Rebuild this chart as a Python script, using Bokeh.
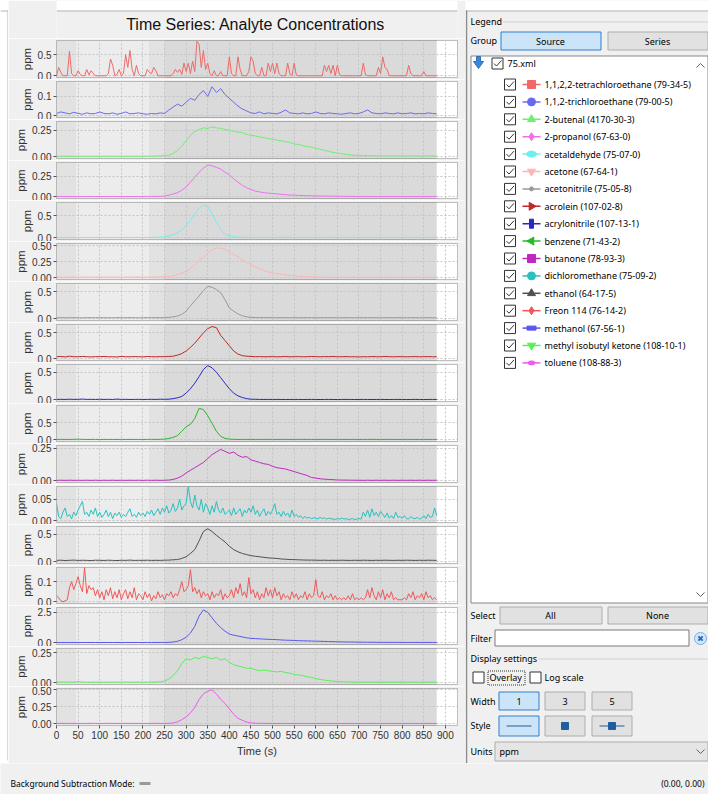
import math
from bokeh.plotting import figure
from bokeh.layouts import row, column
from bokeh.models import Range1d, FixedTicker, PrintfTickFormatter, BoxAnnotation
from bokeh.embed import file_html
from bokeh.resources import INLINE
from bokeh.core.properties import value

# ---------------- data ----------------
t10 = list(range(0, 881, 10))   # 10 s sampling
t5 = list(range(0, 881, 5))     # 5 s sampling
time_ticks = list(range(0, 901, 50))

compounds = [
    "1,1,2,2-tetrachloroethane (79-34-5)", "1,1,2-trichloroethane (79-00-5)",
    "2-butenal (4170-30-3)", "2-propanol (67-63-0)", "acetaldehyde (75-07-0)",
    "acetone (67-64-1)", "acetonitrile (75-05-8)", "acrolein (107-02-8)",
    "acrylonitrile (107-13-1)", "benzene (71-43-2)", "butanone (78-93-3)",
    "dichloromethane (75-09-2)", "ethanol (64-17-5)", "Freon 114 (76-14-2)",
    "methanol (67-56-1)", "methyl isobutyl ketone (108-10-1)", "toluene (108-88-3)",
]

s_tetrachloroethane = [
    0, 0.2, 0.08, 0, 0, 0, 0.58, 0.05, 0, 0, 0.12, 0.03, 0, 0, 0.15, 0.02, 0.12, 0.06, 0, 0,
    0, 0, 0, 0, 0.05, 0.4, 0.25, 0, 0.03, 0.15, 0, 0.05, 0.5, 0.2, 0.6, 0.15, 0, 0.25, 0.05, 0,
    0, 0, 0.15, 0.08, 0.05, 0.2, 0.12, 0, 0, 0, 0, 0, 0, 0, 0.05, 0.15, 0.08, 0.15, 0.03, 0.3,
    0.1, 0.3, 0.05, 0.35, 0.1, 0.82, 0.75, 0.2, 0.6, 0.15, 0.3, 0.05, 0, 0.12, 0, 0, 0.1, 0, 0, 0,
    0.45, 0.05, 0, 0, 0.45, 0.15, 0, 0, 0, 0.1, 0.45, 0.35, 0.05, 0, 0, 0.2, 0, 0, 0.3, 0.1,
    0.3, 0.05, 0.3, 0.05, 0, 0, 0, 0.3, 0.05, 0, 0.3, 0.02, 0, 0, 0, 0, 0, 0, 0, 0,
    0, 0, 0, 0, 0.25, 0.1, 0.25, 0.05, 0.25, 0, 0.25, 0.02, 0, 0, 0, 0, 0, 0, 0, 0,
    0, 0, 0.3, 0.02, 0, 0, 0, 0, 0, 0.2, 0.05, 0.45, 0.2, 0.15, 0, 0, 0, 0, 0, 0,
    0, 0, 0, 0.25, 0.05, 0, 0, 0, 0, 0, 0.1, 0, 0, 0, 0, 0, 0,
]
s_trichloroethane = [
    0.012, 0.02, 0.015, 0.01, 0.018, 0.012, 0.008, 0.015, 0.01, 0.012,
    0.02, 0.012, 0.01, 0.015, 0.008, 0.012, 0.02, 0.01, 0.012, 0.015,
    0.01, 0.008, 0.012, 0.01, 0.015, 0.012, 0.03, 0.045, 0.06, 0.05,
    0.07, 0.09, 0.08, 0.11, 0.13, 0.1, 0.15, 0.12, 0.14, 0.11,
    0.09, 0.07, 0.05, 0.035, 0.025, 0.015, 0.012, 0.02, 0.01, 0.015,
    0.012, 0.01, 0.018, 0.03, 0.015, 0.012, 0.01, 0.015, 0.01, 0.012,
    0.02, 0.012, 0.01, 0.015, 0.012, 0.01, 0.008, 0.012, 0.015, 0.01,
    0.012, 0.02, 0.03, 0.015, 0.012, 0.01, 0.015, 0.012, 0.01, 0.015,
    0.01, 0.012, 0.015, 0.01, 0.012, 0.01, 0.015, 0.012, 0.01,
]
s_butenal = [
    0.004, 0.005, 0.004, 0.005, 0.004, 0.006, 0.005, 0.004, 0.005, 0.004,
    0.005, 0.004, 0.005, 0.006, 0.004, 0.005, 0.004, 0.005, 0.004, 0.005,
    0.005, 0.006, 0.005, 0.006, 0.008, 0.01, 0.015, 0.03, 0.06, 0.1,
    0.15, 0.2, 0.235, 0.255, 0.27, 0.265, 0.28, 0.27, 0.265, 0.255,
    0.245, 0.24, 0.23, 0.225, 0.21, 0.2, 0.195, 0.185, 0.18, 0.17,
    0.165, 0.155, 0.15, 0.14, 0.135, 0.12, 0.115, 0.105, 0.095, 0.09,
    0.08, 0.07, 0.06, 0.05, 0.04, 0.035, 0.028, 0.022, 0.018, 0.014,
    0.012, 0.01, 0.01, 0.009, 0.008, 0.008, 0.008, 0.007, 0.008, 0.007,
    0.008, 0.007, 0.007, 0.008, 0.007, 0.007, 0.008, 0.007, 0.007,
]
s_propanol = [
    0.003, 0.004, 0.003, 0.004, 0.003, 0.005, 0.004, 0.003, 0.004, 0.003,
    0.004, 0.003, 0.004, 0.005, 0.003, 0.004, 0.003, 0.004, 0.003, 0.004,
    0.004, 0.005, 0.004, 0.005, 0.006, 0.008, 0.02, 0.035, 0.05, 0.08,
    0.12, 0.18, 0.24, 0.3, 0.35, 0.39, 0.38, 0.36, 0.34, 0.3,
    0.27, 0.22, 0.18, 0.14, 0.11, 0.09, 0.07, 0.06, 0.05, 0.045,
    0.04, 0.035, 0.03, 0.026, 0.022, 0.02, 0.017, 0.015, 0.013, 0.012,
    0.01, 0.009, 0.008, 0.008, 0.007, 0.006, 0.006, 0.005, 0.005, 0.005,
    0.004, 0.004, 0.004, 0.004, 0.003, 0.004, 0.003, 0.004, 0.003, 0.004,
    0.003, 0.004, 0.003, 0.003, 0.004, 0.003, 0.003, 0.004, 0.003,
]
s_acetaldehyde = [
    0.005, 0.006, 0.005, 0.006, 0.005, 0.006, 0.005, 0.005, 0.006, 0.005,
    0.006, 0.005, 0.005, 0.006, 0.005, 0.006, 0.005, 0.006, 0.005, 0.006,
    0.006, 0.007, 0.008, 0.01, 0.015, 0.02, 0.04, 0.07, 0.11, 0.18,
    0.28, 0.4, 0.55, 0.68, 0.75, 0.72, 0.55, 0.35, 0.18, 0.08,
    0.04, 0.02, 0.012, 0.01, 0.008, 0.008, 0.007, 0.008, 0.007, 0.008,
    0.007, 0.008, 0.007, 0.008, 0.007, 0.008, 0.007, 0.008, 0.007, 0.008,
    0.007, 0.008, 0.007, 0.008, 0.007, 0.008, 0.007, 0.008, 0.007, 0.008,
    0.007, 0.008, 0.007, 0.008, 0.007, 0.008, 0.007, 0.008, 0.007, 0.008,
    0.007, 0.008, 0.007, 0.008, 0.007, 0.008, 0.007, 0.008, 0.007,
]
s_acetone = [
    0.01, 0.011, 0.01, 0.01, 0.011, 0.01, 0.01, 0.011, 0.01, 0.01,
    0.011, 0.01, 0.01, 0.011, 0.01, 0.01, 0.011, 0.01, 0.01, 0.011,
    0.01, 0.01, 0.012, 0.012, 0.014, 0.016, 0.02, 0.03, 0.05, 0.07,
    0.1, 0.15, 0.2, 0.27, 0.32, 0.38, 0.43, 0.46, 0.46, 0.44,
    0.4, 0.36, 0.32, 0.28, 0.24, 0.2, 0.17, 0.14, 0.11, 0.09,
    0.08, 0.065, 0.055, 0.045, 0.038, 0.032, 0.026, 0.02, 0.016, 0.013,
    0.012, 0.011, 0.01, 0.01, 0.009, 0.009, 0.009, 0.008, 0.008, 0.008,
    0.008, 0.009, 0.008, 0.008, 0.009, 0.008, 0.008, 0.009, 0.008, 0.008,
    0.009, 0.008, 0.008, 0.009, 0.008, 0.008, 0.009, 0.008, 0.008,
]
s_acetonitrile = [
    0.018, 0.02, 0.017, 0.019, 0.02, 0.018, 0.017, 0.02, 0.019, 0.018,
    0.02, 0.018, 0.019, 0.017, 0.02, 0.018, 0.019, 0.02, 0.018, 0.017,
    0.019, 0.02, 0.018, 0.02, 0.019, 0.021, 0.025, 0.035, 0.05, 0.08,
    0.14, 0.24, 0.33, 0.42, 0.52, 0.6, 0.58, 0.54, 0.48, 0.35,
    0.2, 0.14, 0.09, 0.055, 0.035, 0.025, 0.022, 0.02, 0.021, 0.019,
    0.02, 0.018, 0.02, 0.019, 0.018, 0.02, 0.019, 0.018, 0.02, 0.019,
    0.018, 0.02, 0.019, 0.018, 0.02, 0.019, 0.018, 0.02, 0.019, 0.018,
    0.02, 0.019, 0.018, 0.02, 0.019, 0.018, 0.02, 0.019, 0.018, 0.02,
    0.019, 0.018, 0.02, 0.019, 0.018, 0.02, 0.019, 0.018, 0.02,
]
s_acrolein = [
    0.04, 0.045, 0.035, 0.05, 0.04, 0.038, 0.045, 0.04, 0.035, 0.042,
    0.04, 0.045, 0.038, 0.04, 0.035, 0.045, 0.04, 0.038, 0.042, 0.04,
    0.035, 0.045, 0.04, 0.038, 0.042, 0.04, 0.045, 0.05, 0.07, 0.1,
    0.15, 0.22, 0.3, 0.4, 0.5, 0.58, 0.62, 0.6, 0.45, 0.35,
    0.25, 0.15, 0.09, 0.06, 0.05, 0.045, 0.04, 0.042, 0.038, 0.04,
    0.042, 0.038, 0.04, 0.045, 0.038, 0.04, 0.042, 0.038, 0.04, 0.045,
    0.04, 0.038, 0.042, 0.04, 0.045, 0.038, 0.04, 0.042, 0.038, 0.04,
    0.035, 0.04, 0.038, 0.042, 0.04, 0.038, 0.045, 0.04, 0.038, 0.042,
    0.04, 0.038, 0.04, 0.042, 0.038, 0.04, 0.042, 0.038, 0.04,
]
s_acrylonitrile = [
    0.006, 0.008, 0.005, 0.01, 0.006, 0.008, 0.012, 0.006, 0.008, 0.005,
    0.01, 0.006, 0.008, 0.005, 0.012, 0.006, 0.008, 0.005, 0.006, 0.008,
    0.005, 0.006, 0.008, 0.006, 0.01, 0.008, 0.01, 0.02, 0.035, 0.06,
    0.12, 0.2, 0.3, 0.42, 0.55, 0.62, 0.58, 0.5, 0.4, 0.3,
    0.2, 0.12, 0.07, 0.04, 0.02, 0.01, 0.008, 0.006, 0.005, 0.006,
    0.005, 0.006, 0.005, 0.004, 0.005, 0.006, 0.005, 0.004, 0.005, 0.006,
    0.005, 0.004, 0.005, 0.006, 0.005, 0.004, 0.005, 0.006, 0.005, 0.004,
    0.005, 0.006, 0.005, 0.004, 0.005, 0.006, 0.005, 0.004, 0.005, 0.006,
    0.005, 0.004, 0.005, 0.006, 0.005, 0.004, 0.005, 0.006, 0.005,
]
s_benzene = [
    0.01, 0.012, 0.01, 0.01, 0.012, 0.02, 0.012, 0.01, 0.01, 0.012,
    0.01, 0.012, 0.01, 0.011, 0.01, 0.012, 0.01, 0.011, 0.01, 0.012,
    0.01, 0.011, 0.012, 0.01, 0.015, 0.02, 0.04, 0.07, 0.12, 0.25,
    0.38, 0.45, 0.62, 0.92, 0.88, 0.7, 0.48, 0.25, 0.1, 0.04,
    0.02, 0.012, 0.01, 0.011, 0.01, 0.012, 0.01, 0.011, 0.01, 0.012,
    0.01, 0.011, 0.01, 0.012, 0.01, 0.011, 0.01, 0.012, 0.01, 0.011,
    0.01, 0.012, 0.01, 0.011, 0.01, 0.012, 0.01, 0.011, 0.01, 0.012,
    0.01, 0.011, 0.01, 0.012, 0.01, 0.011, 0.01, 0.012, 0.01, 0.011,
    0.01, 0.012, 0.01, 0.011, 0.01, 0.012, 0.01, 0.011, 0.01,
]
s_butanone = [
    0.003, 0.004, 0.003, 0.004, 0.003, 0.004, 0.003, 0.004, 0.003, 0.004,
    0.003, 0.004, 0.003, 0.004, 0.003, 0.004, 0.003, 0.004, 0.003, 0.004,
    0.003, 0.004, 0.003, 0.004, 0.003, 0.004, 0.005, 0.01, 0.02, 0.035,
    0.06, 0.08, 0.1, 0.12, 0.14, 0.17, 0.2, 0.22, 0.24, 0.225,
    0.21, 0.22, 0.195, 0.18, 0.185, 0.16, 0.15, 0.14, 0.13, 0.125,
    0.11, 0.1, 0.095, 0.09, 0.08, 0.07, 0.06, 0.05, 0.04, 0.025,
    0.02, 0.015, 0.012, 0.01, 0.008, 0.006, 0.005, 0.005, 0.004, 0.004,
    0.004, 0.003, 0.004, 0.003, 0.004, 0.003, 0.004, 0.003, 0.004, 0.003,
    0.004, 0.003, 0.004, 0.003, 0.004, 0.003, 0.004, 0.003, 0.004,
]
s_dichloromethane = [
    0.04, 0.01, 0.005, 0.02, 0.03, 0.01, 0.015, 0.005, 0.02, 0.012, 0.025, 0.035, 0.045, 0.015, 0.02, 0.01, 0.025, 0.015, 0.03, 0.01,
    0.02, 0.008, 0.015, 0.025, 0.01, 0.02, 0.005, 0.018, 0.012, 0.02, 0.008, 0.015, 0.01, 0.02, 0.028, 0.01, 0.015, 0.008, 0.02, 0.012,
    0.018, 0.01, 0.022, 0.015, 0.025, 0.012, 0.02, 0.028, 0.015, 0.03, 0.02, 0.035, 0.018, 0.025, 0.04, 0.022, 0.03, 0.05, 0.025, 0.035,
    0.04, 0.08, 0.045, 0.03, 0.06, 0.035, 0.025, 0.05, 0.02, 0.04, 0.03, 0.015, 0.035, 0.02, 0.045, 0.025, 0.018, 0.03, 0.015, 0.02,
    0.025, 0.012, 0.03, 0.015, 0.022, 0.028, 0.01, 0.025, 0.018, 0.03, 0.02, 0.035, 0.015, 0.025, 0.01, 0.02, 0.028, 0.012, 0.022, 0.015,
    0.025, 0.04, 0.015, 0.02, 0.01, 0.022, 0.012, 0.018, 0.008, 0.025, 0.01, 0.015, 0.008, 0.012, 0.005, 0.01, 0.006, 0.008, 0.005, 0.007,
    0.006, 0.004, 0.008, 0.005, 0.007, 0.004, 0.006, 0.005, 0.004, 0.003, 0.005, 0.004, 0.006, 0.004, 0.005, 0.003, 0.004, 0.005, 0.003, 0.004,
    0.005, 0.004, 0.02, 0.01, 0.025, 0.008, 0.028, 0.012, 0.02, 0.01, 0.022, 0.015, 0.008, 0.018, 0.006, 0.012, 0.005, 0.02, 0.008, 0.01,
    0.006, 0.012, 0.005, 0.004, 0.01, 0.006, 0.005, 0.008, 0.004, 0.006, 0.012, 0.005, 0.015, 0.008, 0.01, 0.03, 0.012,
]
s_ethanol = [
    0.025, 0.028, 0.022, 0.026, 0.03, 0.024, 0.027, 0.025, 0.022, 0.028,
    0.026, 0.024, 0.028, 0.025, 0.022, 0.027, 0.025, 0.03, 0.024, 0.026,
    0.025, 0.028, 0.024, 0.026, 0.025, 0.028, 0.03, 0.035, 0.04, 0.06,
    0.09, 0.15, 0.22, 0.38, 0.55, 0.6, 0.55, 0.48, 0.42, 0.36,
    0.28, 0.22, 0.18, 0.15, 0.13, 0.11, 0.1, 0.09, 0.08, 0.07,
    0.065, 0.06, 0.05, 0.045, 0.04, 0.038, 0.035, 0.032, 0.03, 0.03,
    0.028, 0.026, 0.028, 0.025, 0.027, 0.025, 0.028, 0.026, 0.024, 0.027,
    0.025, 0.028, 0.026, 0.024, 0.027, 0.025, 0.028, 0.026, 0.024, 0.027,
    0.025, 0.028, 0.026, 0.024, 0.027, 0.025, 0.028, 0.026, 0.025,
]
s_freon114 = [
    0.03, 0.02, 0.005, 0, 0.005, 0.01, 0.07, 0.1, 0.06, 0.09, 0.125, 0.08, 0.05, 0.17, 0.04, 0.08, 0.06, 0.07, 0.03, 0.06,
    0.02, 0.05, 0.01, 0.06, 0.03, 0.07, 0.015, 0.05, 0.02, 0.06, 0.01, 0.04, 0.06, 0.015, 0.05, 0.02, 0.07, 0.01, 0.04, 0.03,
    0.01, 0.05, 0.02, 0.04, 0.005, 0.03, 0.015, 0.05, 0.02, 0.035, 0.01, 0.04, 0.03, 0.05, 0.02, 0.04, 0.03, 0.06, 0.1, 0.05,
    0.06, 0.08, 0.16, 0.05, 0.07, 0.04, 0.06, 0.02, 0.05, 0.03, 0.04, 0.01, 0.05, 0.02, 0.04, 0.03, 0.06, 0.01, 0.04, 0.02,
    0.03, 0.06, 0.02, 0.07, 0.04, 0.09, 0.03, 0.05, 0.02, 0.12, 0.04, 0.06, 0.02, 0.05, 0.01, 0.04, 0.02, 0.07, 0.03, 0.06,
    0.02, 0.07, 0.03, 0.05, 0.01, 0.04, 0.02, 0.03, 0.01, 0.05, 0.02, 0.04, 0.01, 0.03, 0.02, 0.05, 0.01, 0.04, 0.02, 0.03,
    0.11, 0.03, 0.02, 0.05, 0.01, 0.03, 0.02, 0.04, 0.01, 0.03, 0.01, 0.02, 0.01, 0.02, 0.01, 0.03, 0.01, 0.04, 0.01, 0.02,
    0.01, 0.02, 0.01, 0.02, 0.06, 0.02, 0.07, 0.03, 0.01, 0.05, 0.02, 0.06, 0.01, 0.04, 0.02, 0.05, 0.01, 0.02, 0.01, 0.01,
    0.01, 0.02, 0.01, 0.04, 0.02, 0.05, 0.01, 0.03, 0.02, 0.04, 0.01, 0.05, 0.02, 0.03, 0.01, 0.02, 0.01,
]
s_methanol = [
    0.02, 0.021, 0.02, 0.019, 0.02, 0.021, 0.02, 0.02, 0.019, 0.02,
    0.02, 0.021, 0.02, 0.019, 0.02, 0.02, 0.021, 0.02, 0.019, 0.02,
    0.02, 0.021, 0.02, 0.022, 0.025, 0.028, 0.03, 0.06, 0.12, 0.25,
    0.45, 0.8, 1.35, 2.2, 2.7, 2.5, 2.05, 1.6, 1.25, 0.95,
    0.72, 0.62, 0.55, 0.48, 0.4, 0.36, 0.34, 0.32, 0.3, 0.28,
    0.27, 0.25, 0.23, 0.21, 0.2, 0.19, 0.17, 0.16, 0.15, 0.14,
    0.13, 0.12, 0.11, 0.1, 0.09, 0.08, 0.07, 0.065, 0.06, 0.055,
    0.05, 0.045, 0.04, 0.04, 0.035, 0.035, 0.03, 0.03, 0.03, 0.03,
    0.028, 0.028, 0.027, 0.027, 0.026, 0.026, 0.025, 0.025, 0.025,
]
s_mibk = [
    0.005, 0.006, 0.005, 0.006, 0.005, 0.01, 0.006, 0.005, 0.005, 0.006,
    0.005, 0.006, 0.005, 0.005, 0.006, 0.005, 0.006, 0.005, 0.005, 0.006,
    0.005, 0.005, 0.006, 0.006, 0.008, 0.015, 0.03, 0.06, 0.1, 0.16,
    0.2, 0.19, 0.21, 0.2, 0.22, 0.21, 0.2, 0.21, 0.19, 0.2,
    0.17, 0.15, 0.14, 0.13, 0.12, 0.12, 0.11, 0.1, 0.105, 0.1,
    0.095, 0.09, 0.095, 0.085, 0.08, 0.07, 0.065, 0.06, 0.05, 0.045,
    0.035, 0.028, 0.022, 0.018, 0.014, 0.01, 0.008, 0.007, 0.006, 0.006,
    0.005, 0.006, 0.005, 0.005, 0.006, 0.005, 0.005, 0.006, 0.005, 0.005,
    0.006, 0.005, 0.005, 0.006, 0.005, 0.005, 0.006, 0.005, 0.005,
]
s_toluene = [
    0.005, 0.006, 0.004, 0.005, 0.006, 0.005, 0.004, 0.005, 0.006, 0.005,
    0.004, 0.005, 0.006, 0.005, 0.004, 0.005, 0.006, 0.005, 0.004, 0.005,
    0.005, 0.004, 0.005, 0.006, 0.005, 0.005, 0.006, 0.01, 0.03, 0.06,
    0.1, 0.16, 0.24, 0.36, 0.44, 0.48, 0.5, 0.44, 0.36, 0.3,
    0.22, 0.14, 0.08, 0.05, 0.025, 0.012, 0.008, 0.006, 0.005, 0.005,
    0.004, 0.005, 0.004, 0.005, 0.004, 0.005, 0.004, 0.005, 0.004, 0.005,
    0.004, 0.005, 0.004, 0.005, 0.004, 0.005, 0.004, 0.005, 0.004, 0.005,
    0.004, 0.005, 0.004, 0.005, 0.004, 0.005, 0.004, 0.005, 0.004, 0.005,
    0.004, 0.005, 0.004, 0.005, 0.004, 0.005, 0.004, 0.005, 0.004,
]

series_values = [
    s_tetrachloroethane, s_trichloroethane, s_butenal, s_propanol, s_acetaldehyde,
    s_acetone, s_acetonitrile, s_acrolein, s_acrylonitrile, s_benzene, s_butanone,
    s_dichloromethane, s_ethanol, s_freon114, s_methanol, s_mibk, s_toluene,
]
series_times = [t5, t10, t10, t10, t10, t10, t10, t10, t10, t10, t10, t5, t10, t5, t10, t10, t10]
y_max = [0.84, 0.177, 0.33, 0.42, 0.81, 0.53, 0.65, 0.66, 0.64, 1.0, 0.27, 0.08, 0.64, 0.17, 2.9, 0.285, 0.52]
y_ticks = [[0, 0.5], [0, 0.1], [0, 0.25], [0, 0.25], [0, 0.5], [0, 0.25, 0.5], [0, 0.5], [0, 0.5],
           [0, 0.5], [0, 0.5], [0, 0.25], [0, 0.05], [0, 0.5], [0, 0.1], [0, 2.5], [0, 0.25], [0, 0.25, 0.5]]
y_fmt = ["%.1f", "%.1f", "%.2f", "%.2f", "%.1f", "%.2f", "%.1f", "%.1f", "%.1f", "%.1f", "%.2f",
         "%.2f", "%.1f", "%.1f", "%.1f", "%.2f", "%.2f"]
colors = ["#f06868", "#6a6af0", "#70ee70", "#ee70ee", "#70eeee", "#ffb4b4", "#999999", "#c02828",
          "#2828c0", "#28b828", "#c028c0", "#28c0c0", "#505050", "#f05858", "#5858f0", "#58f058", "#f058f0"]
legend_markers = ["square", "circle", "triangle", "diamond", "ellipse", "inverted_triangle", "dot",
                  "triangle_r", "rect_v", "triangle_l", "square", "circle", "triangle", "diamond",
                  "rect_h", "inverted_triangle", "ellipse_s"]

# ---------------- styling ----------------
BG = "#f0f0f0"
CF = "Liberation Sans"
UF = "Noto Sans"
STRIP_W, LEFT_W, RIGHT_W = 8, 457, 243
HEADER_H, XAXIS_H = 38, 36
panel_h = [41 if i % 2 == 0 else 40 for i in range(17)]
TOTAL_H = HEADER_H + sum(panel_h) + XAXIS_H

x_rng = Range1d(0, 928)


def ui_fig(w, h, bg=BG):
    f = figure(width=w, height=h, x_range=Range1d(0, w), y_range=Range1d(h, 0),
               output_backend="svg", toolbar_location=None, min_border=0,
               x_axis_location=None, y_axis_location=None,
               background_fill_color=bg, border_fill_color=bg, outline_line_color=None)
    f.grid.visible = False
    return f


def label(f, x, y, s, size="9px", align="left", color="#000000", font=UF, style="normal"):
    f.text(x=[x], y=[y], text=[s], text_font=value(font), text_font_size=size,
           text_align=align, text_baseline="middle", text_color=color, text_font_style=style)


def box(f, l, r, t, b, fill, line, dash="solid"):
    f.quad(left=[l], right=[r], top=[t], bottom=[b], fill_color=fill, line_color=line,
           line_width=1, line_dash=dash)


def checkbox(f, cx, cy, checked=True):
    box(f, cx - 5.5, cx + 5.5, cy - 5.5, cy + 5.5, "white", "#333333")
    if checked:
        f.line(x=[cx - 3.5, cx - 1, cx + 4], y=[cy, cy + 2.5, cy - 3], line_color="#333333", line_width=1)


# ---------------- left strip ----------------
strip = ui_fig(STRIP_W, TOTAL_H, bg="white")
strip.line(x=[7.5, 7.5], y=[10, TOTAL_H - 3], line_color="#b4b4b4")
strip.line(x=[0, 8], y=[10.5, 10.5], line_color="#b4b4b4")

# ---------------- header ----------------
header = ui_fig(LEFT_W, HEADER_H)
header.quad(left=[0], right=[LEFT_W], top=[0], bottom=[10], fill_color="white", line_color=None)
header.line(x=[0, LEFT_W], y=[10.5, 10.5], line_color="#b4b4b4")
label(header, 227, 24, "Time Series: Analyte Concentrations", size="16px", font=CF,
      color="#111111", align="center")

# ---------------- panels ----------------
figs = []
for i in range(17):
    last = i == 16
    ym = y_max[i]
    f = figure(width=LEFT_W, height=panel_h[i] + (XAXIS_H if last else 0),
               x_range=x_rng, y_range=Range1d(-0.05 * ym, ym),
               output_backend="svg", toolbar_location=None,
               min_border_left=48, min_border_right=8, min_border_top=2,
               min_border_bottom=(XAXIS_H + 2 if last else 2),
               background_fill_color="#dadada", border_fill_color=BG,
               outline_line_color="#a9a9a9")
    for (l, r, c) in [(0, 45, "#e2e2e2"), (45, 215, "#ececec"), (215, 250, "#e2e2e2"), (880, 928, "#ffffff")]:
        f.add_layout(BoxAnnotation(left=l, right=r, fill_color=c, fill_alpha=1, line_color=None, level="image"))
    f.line(series_times[i], series_values[i], line_color=colors[i], line_width=1)

    f.xgrid.ticker = FixedTicker(ticks=time_ticks)
    f.ygrid.ticker = FixedTicker(ticks=y_ticks[i])
    f.grid.grid_line_color = "#c4c4c4"
    f.grid.grid_line_dash = "2 2"

    ya = f.yaxis[0]
    ya.ticker = FixedTicker(ticks=y_ticks[i])
    ya.formatter = PrintfTickFormatter(format=y_fmt[i])
    ya.axis_label = "ppm"
    ya.axis_label_text_font = CF
    ya.axis_label_text_font_size = "11.5px"
    ya.axis_label_text_font_style = "normal"
    ya.axis_label_text_color = "#333333"
    ya.axis_label_standoff = 2
    ya.major_label_text_font = CF
    ya.major_label_text_font_size = "10px"
    ya.major_label_text_color = "#333333"
    ya.major_label_standoff = 2
    ya.axis_line_color = None
    ya.major_tick_line_color = "#555555"
    ya.major_tick_in = 0
    ya.major_tick_out = 3
    ya.minor_tick_line_color = None

    xa = f.xaxis[0]
    if last:
        xa.ticker = FixedTicker(ticks=time_ticks)
        xa.axis_label = "Time (s)"
        xa.axis_label_text_font = CF
        xa.axis_label_text_font_size = "11px"
        xa.axis_label_text_font_style = "normal"
        xa.axis_label_text_color = "#333333"
        xa.axis_label_standoff = 3
        xa.major_label_text_font = CF
        xa.major_label_text_font_size = "10px"
        xa.major_label_text_color = "#333333"
        xa.major_label_standoff = 2
        xa.axis_line_color = None
        xa.major_tick_line_color = "#555555"
        xa.major_tick_in = 0
        xa.major_tick_out = 3
        xa.minor_tick_line_color = None
    else:
        xa.visible = False
    figs.append(f)

left_col = column([header] + figs, spacing=0)

# ---------------- right panel (legend / settings) ----------------
rp = ui_fig(RIGHT_W, TOTAL_H)
rp.quad(left=[0], right=[RIGHT_W], top=[0], bottom=[10], fill_color="white", line_color=None)
rp.line(x=[0, RIGHT_W], y=[10.5, 10.5], line_color="#b4b4b4")
rp.line(x=[1, 1], y=[10, TOTAL_H], line_color="#8c8c8c", line_width=1.5)

label(rp, 5, 21, "Legend")
rp.line(x=[38, RIGHT_W], y=[21.5, 21.5], line_color="#d0d0d0")
label(rp, 5, 40, "Group")
box(rp, 35.5, 135.5, 31.5, 49.5, "#cce4f7", "#2f7fcf")
label(rp, 85, 40.5, "Source", align="center")
box(rp, 142.5, 242.5, 31.5, 49.5, "#e1e1e1", "#adadad")
label(rp, 192, 40.5, "Series", align="center")

box(rp, 5.5, 242.5, 55.5, 602.5, "white", "#828790")
rp.patch(x=[11, 15, 15, 18, 13, 8, 11], y=[56, 56, 61, 61, 68, 61, 61], fill_color="#3a87d9", line_color="#2f6fb8")
checkbox(rp, 32, 63)
label(rp, 42, 63, "75.xml")
rp.line(x=[231, 235, 239], y=[67, 63, 67], line_color="#606060")
rp.line(x=[231, 235, 239], y=[592, 596, 592], line_color="#606060")

for i, name in enumerate(compounds):
    y = 84 + 17.4 * i
    c = colors[i]
    checkbox(rp, 44.5, y)
    rp.line(x=[57, 75], y=[y, y], line_color=c, line_width=1.5)
    m = legend_markers[i]
    if m == "rect_v":
        rp.rect(x=[66], y=[y], width=4, height=9, fill_color=c, line_color=c)
    elif m == "rect_h":
        rp.rect(x=[66], y=[y], width=9, height=4, fill_color=c, line_color=c)
    elif m == "ellipse":
        rp.ellipse(x=[66], y=[y], width=10, height=6, fill_color=c, line_color=c)
    elif m == "ellipse_s":
        rp.ellipse(x=[66], y=[y], width=7, height=4, fill_color=c, line_color=c)
    elif m == "dot":
        rp.scatter(x=[66], y=[y], marker="circle", size=4, fill_color=c, line_color=c)
    elif m == "triangle_r":
        rp.scatter(x=[66], y=[y], marker="triangle", angle=-math.pi / 2, size=8, fill_color=c, line_color=c)
    elif m == "triangle_l":
        rp.scatter(x=[66], y=[y], marker="triangle", angle=math.pi / 2, size=8, fill_color=c, line_color=c)
    else:
        rp.scatter(x=[66], y=[y], marker=m, size=8, fill_color=c, line_color=c)
    label(rp, 79, y, name)

label(rp, 5, 615, "Select")
box(rp, 34.5, 136.5, 606.5, 623.5, "#e1e1e1", "#adadad")
label(rp, 85, 615, "All", align="center")
box(rp, 142.5, 242.5, 606.5, 623.5, "#e1e1e1", "#adadad")
label(rp, 192, 615, "None", align="center")

label(rp, 5, 638, "Filter")
box(rp, 29.5, 223.5, 629.5, 645.5, "white", "#7a7a7a")
rp.scatter(x=[235], y=[638], marker="circle", size=12, fill_color="#d4e6f8", line_color="#7aaee0")
rp.scatter(x=[235], y=[638], marker="x", size=6, line_color="#1e6fc8", line_width=2)

label(rp, 5, 658, "Display settings")
rp.line(x=[73, RIGHT_W], y=[658.5, 658.5], line_color="#d0d0d0")
checkbox(rp, 13, 677, checked=False)
label(rp, 24, 677, "Overlay")
box(rp, 22.5, 59.5, 670.5, 684.5, None, "#333333", dash="1 1")
checkbox(rp, 70, 677, checked=False)
label(rp, 79, 677, "Log scale")

label(rp, 5, 701, "Width")
box(rp, 33.5, 73.5, 691.5, 709.5, "#cce4f7", "#2f7fcf")
label(rp, 53.5, 700.5, "1", align="center")
box(rp, 79.5, 119.5, 691.5, 709.5, "#e1e1e1", "#adadad")
label(rp, 99.5, 700.5, "3", align="center")
box(rp, 126.5, 166.5, 691.5, 709.5, "#e1e1e1", "#adadad")
label(rp, 146.5, 700.5, "5", align="center")

label(rp, 5, 725, "Style")
box(rp, 33.5, 73.5, 715.5, 735.5, "#cce4f7", "#2f7fcf")
rp.line(x=[41, 66], y=[725.5, 725.5], line_color="#1f5f9f", line_width=1)
box(rp, 79.5, 119.5, 715.5, 735.5, "#e1e1e1", "#adadad")
rp.scatter(x=[99.5], y=[725.5], marker="square", size=7, fill_color="#1f5f9f", line_color="#1f5f9f")
box(rp, 126.5, 166.5, 715.5, 735.5, "#e1e1e1", "#adadad")
rp.line(x=[134, 159], y=[725.5, 725.5], line_color="#1f5f9f", line_width=1)
rp.scatter(x=[146.5], y=[725.5], marker="square", size=7, fill_color="#1f5f9f", line_color="#1f5f9f")

label(rp, 5, 751, "Units")
box(rp, 29.5, 242.5, 741.5, 760.5, "#e5e5e5", "#adadad")
label(rp, 34, 751, "ppm")
rp.line(x=[231, 235, 239], y=[749, 753, 749], line_color="#606060")

# ---------------- status bar ----------------
status = ui_fig(STRIP_W + LEFT_W + RIGHT_W, 794 - TOTAL_H)
label(status, 10, 20, "Background Subtraction Mode:", size="8.5px")
status.quad(left=[139], right=[150], top=[18.5], bottom=[21.5], fill_color="#9a9a9a", line_color=None)
label(status, 704, 20, "(0.00, 0.00)", align="right", size="8.5px")

page = column([row([strip, left_col, rp], spacing=0), status], spacing=0)

open("out.html", "w").write(file_html(page, INLINE))
